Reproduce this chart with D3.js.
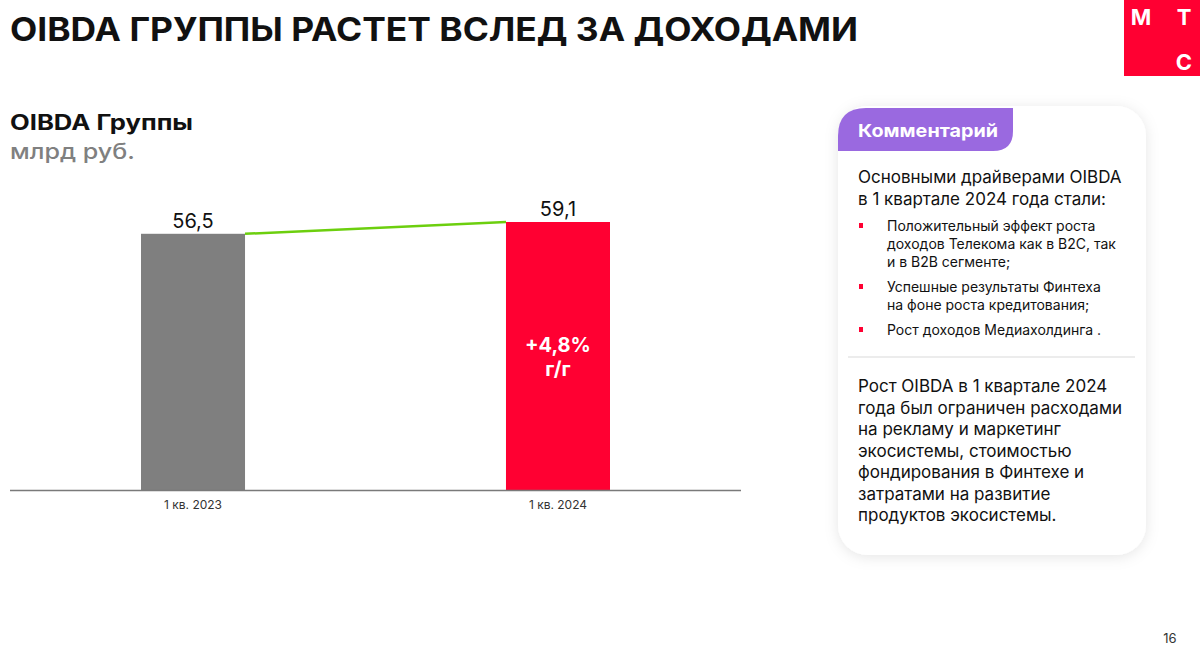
<!DOCTYPE html>
<html><head><meta charset="utf-8">
<script src="https://cdn.jsdelivr.net/npm/d3@7"></script>
<style>
html,body{margin:0;padding:0;background:#fff;}
svg{display:block;font-family:Inter,"Noto Sans",sans-serif;}
</style></head>
<body>
<svg id="c" width="1200" height="653"></svg>
<script>
const categories = ["1 кв. 2023", "1 кв. 2024"];
const values = [56.5, 59.1];
const valueLabels = ["56,5", "59,1"];
const barColors = ["#7f7f7f", "#ff0032"];
const growthLabel = ["+4,8%", "г/г"];
const titleText = "OIBDA ГРУППЫ РАСТЕТ ВСЛЕД ЗА ДОХОДАМИ";
const introLines = ["Основными драйверами OIBDA", "в 1 квартале 2024 года стали:"];
const bullets = [
  ["Положительный эффект роста", "доходов Телекома как в B2C, так", "и в B2B сегменте;"],
  ["Успешные результаты Финтеха", "на фоне роста кредитования;"],
  ["Рост доходов Медиахолдинга ."]
];
const paraLines = ["Рост OIBDA в 1 квартале 2024", "года был ограничен расходами", "на рекламу и маркетинг", "экосистемы, стоимостью", "фондирования в Финтехе и", "затратами на развитие", "продуктов экосистемы."];

const svg = d3.select("#c");
const defs = svg.append("defs");
const f = defs.append("filter").attr("id","sh").attr("x","-20%").attr("y","-20%").attr("width","140%").attr("height","140%");
f.append("feDropShadow").attr("dx",0).attr("dy",2).attr("stdDeviation",7).attr("flood-color","#000").attr("flood-opacity",0.10);

// Title
svg.append("text").attr("x",10).attr("y",41).attr("font-size",32).attr("font-weight",700)
  .attr("fill","#111").attr("textLength",848).attr("lengthAdjust","spacingAndGlyphs").text(titleText);

// Logo
svg.append("rect").attr("x",1124).attr("y",0).attr("width",76).attr("height",76).attr("fill","#ff0032");
const lg = svg.append("g").attr("fill","#fff").attr("font-weight",700).attr("font-size",22).attr("text-anchor","middle");
lg.append("text").attr("x",1141).attr("y",25).text("М");
lg.append("text").attr("x",1184).attr("y",25).text("Т");
lg.append("text").attr("x",1184).attr("y",70).text("С");

// Chart header
svg.append("text").attr("x",10).attr("y",130).attr("font-size",21).attr("font-weight",700).attr("fill","#111")
  .attr("textLength",183).attr("lengthAdjust","spacingAndGlyphs").text("OIBDA Группы");
svg.append("text").attr("x",10).attr("y",159).attr("font-size",21).attr("font-weight",500).attr("fill","#808080")
  .attr("textLength",125).attr("lengthAdjust","spacingAndGlyphs").text("млрд руб.");

// Scales
const x = d3.scaleBand().domain(categories).range([141,610]).paddingInner(0.715).paddingOuter(0);
const y = d3.scaleLinear().domain([0, 59.1]).range([490, 222]);

const data = categories.map((c,i)=>({c, v: values[i], l: valueLabels[i], col: barColors[i]}));

svg.selectAll("rect.bar").data(data).join("rect").attr("class","bar")
  .attr("x",d=>x(d.c)).attr("width",x.bandwidth())
  .attr("y",d=>y(d.v)).attr("height",d=>y(0)-y(d.v)).attr("fill",d=>d.col);

// connector line
svg.append("line")
  .attr("x1", x(categories[0])+x.bandwidth()).attr("y1", y(values[0]))
  .attr("x2", x(categories[1])).attr("y2", y(values[1]))
  .attr("stroke","#6ccf0e").attr("stroke-width",2.5);

// value labels
svg.selectAll("text.val").data(data).join("text").attr("class","val")
  .attr("x",d=>x(d.c)+x.bandwidth()/2).attr("y",d=>y(d.v)-6)
  .attr("text-anchor","middle").attr("font-size",20).attr("fill","#111").text(d=>d.l);

// growth label
const gx = x(categories[1])+x.bandwidth()/2;
svg.append("text").attr("x",gx).attr("y",352).attr("text-anchor","middle").attr("font-size",20).attr("font-weight",700).attr("fill","#fff").text(growthLabel[0]);
svg.append("text").attr("x",gx).attr("y",376).attr("text-anchor","middle").attr("font-size",20).attr("font-weight",700).attr("fill","#fff").text(growthLabel[1]);

// axis
const ax = svg.append("g").attr("transform",`translate(0,${y(0)})`)
  .call(d3.axisBottom(x).tickSize(0).tickPadding(10));
ax.select(".domain").remove();
ax.selectAll("text").attr("font-size",12).attr("fill","#333").attr("font-family","Inter,'Noto Sans',sans-serif");
svg.append("line").attr("x1",10).attr("x2",741).attr("y1",y(0)+0.5).attr("y2",y(0)+0.5).attr("stroke","#7a7a7a").attr("stroke-width",1.5);

// Card
svg.append("rect").attr("x",838).attr("y",106).attr("width",308).attr("height",449).attr("rx",30).attr("fill","#fff").attr("filter","url(#sh)");
// purple tab
const tx0=838, ty0=108, tx1=1013, ty1=151, r=28;
svg.append("path").attr("fill","#9a69e0")
  .attr("d",`M${tx0},${ty1} L${tx0},${ty0+r} Q${tx0},${ty0} ${tx0+r},${ty0} L${tx1},${ty0} L${tx1},${ty1-20} Q${tx1},${ty1} ${tx1-20},${ty1} Z`);
svg.append("text").attr("x",858).attr("y",137).attr("font-size",18).attr("font-weight",700).attr("fill","#fff")
  .attr("textLength",140).attr("lengthAdjust","spacingAndGlyphs").text("Комментарий");

const card = svg.append("g").attr("fill","#111");
introLines.forEach((t,i)=>card.append("text").attr("x",858).attr("y",183+i*21.5).attr("font-size",17).text(t));
let by = 231;
bullets.forEach((b,bi)=>{
  card.append("rect").attr("x",859).attr("y",by-8).attr("width",4).attr("height",5).attr("fill","#ff0032");
  b.forEach((t,i)=>{ card.append("text").attr("x",887).attr("y",by).attr("font-size",14).text(t); by += 18; });
  by += 7;
});
svg.append("line").attr("x1",848).attr("x2",1135).attr("y1",357).attr("y2",357).attr("stroke","#d9d9d9").attr("stroke-width",1);
paraLines.forEach((t,i)=>card.append("text").attr("x",858).attr("y",392+i*21.5).attr("font-size",17).text(t));

// page number
svg.append("text").attr("x",1170).attr("y",643).attr("text-anchor","middle").attr("font-size",13).attr("fill","#333").text("16");
</script>
</body></html>
